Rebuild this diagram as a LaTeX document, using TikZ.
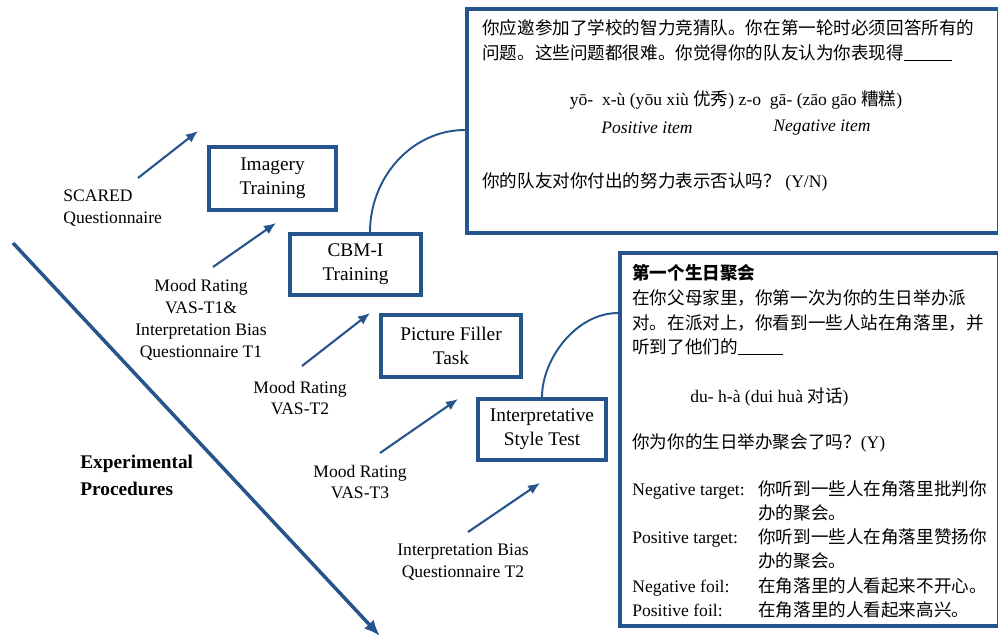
\documentclass[tikz,border=0pt]{standalone}
\usepackage{fontspec}
\setmainfont{Liberation Serif}
\newfontfamily\cjk{Noto Sans CJK SC}
\definecolor{myblue}{RGB}{38,84,140}
\usetikzlibrary{arrows.meta}

\begin{document}
\begin{tikzpicture}[x=0.02cm,y=-0.02cm,
    stage/.style={draw=myblue,line width=2.2pt,align=center,inner sep=0pt,
      font=\fontsize{11}{13.6}\selectfont},
    bigbox/.style={draw=myblue,line width=2.2pt,inner sep=0pt},
    lbl/.style={align=center,inner sep=0pt,font=\fontsize{10}{12.4}\selectfont},
    txt/.style={align=left,anchor=west,inner sep=0pt,font=\fontsize{10}{14}\selectfont},
    flow/.style={myblue,line width=1.2pt,-{Latex[length=2.4mm,width=2mm]}},
    link/.style={myblue,line width=1.1pt}
    ]
    \useasboundingbox (0,0) rectangle (998,639);

    % the stages
    \node[stage,minimum width=2.54cm,minimum height=1.26cm] (img) at (272.5,178.5) {Imagery\\Training};
    \node[stage,minimum width=2.62cm,minimum height=1.22cm] (cbm) at (355.5,264.5) {CBM-I\\Training};
    \node[stage,minimum width=2.80cm,minimum height=1.24cm] (pft) at (451,346) {Picture Filler\\Task};
    \node[stage,minimum width=2.56cm,minimum height=1.22cm] (isty) at (542,429.5) {Interpretative\\Style Test};

    % the measures
    \node[lbl,anchor=west,align=left] (scared) at (63,208) {SCARED\\Questionnaire};
    \node[lbl,font=\fontsize{10}{12.5}\selectfont] (moodA) at (201,320) {Mood Rating\\VAS-T1\&\\Interpretation Bias\\Questionnaire T1};
    \node[lbl] (moodB) at (300,398) {Mood Rating\\VAS-T2};
    \node[lbl] (moodC) at (360,482) {Mood Rating\\VAS-T3};
    \node[lbl] (ibq) at (463,562) {Interpretation Bias\\Questionnaire T2};
    \node[lbl,anchor=west,align=left,font=\bfseries\fontsize{11}{15.3}\selectfont] (exper) at (80,475) {Experimental\\Procedures};

    % the arrows
    \coordinate (scS) at (138,178);  \coordinate (scE) at (198,131);
    \coordinate (t1S) at (213,267);  \coordinate (t1E) at (276,223);
    \coordinate (t2S) at (302,366);  \coordinate (t2E) at (370,313);
    \coordinate (t3S) at (380,453);  \coordinate (t3E) at (458,399);
    \coordinate (ibS) at (468,532);  \coordinate (ibE) at (540,483);
    \draw[flow] (scS) -- (scE);
    \draw[flow] (t1S) -- (t1E);
    \draw[flow] (t2S) -- (t2E);
    \draw[flow] (t3S) -- (t3E);
    \draw[flow] (ibS) -- (ibE);

    % the time line
    \coordinate (tA) at (13,243);
    \coordinate (tB) at (380,636);
    \draw[myblue,line width=2pt,-{Latex[length=3.2mm,width=2.6mm]}] (tA) -- (tB);

    % the example items
    \node[bigbox,minimum width=10.64cm,minimum height=4.48cm] (itembox) at (733,121) {};
    \node[bigbox,minimum width=7.58cm,minimum height=7.46cm] (storybox) at (809.5,439.5) {};

    \node[txt,font=\cjk\fontsize{10}{14.2}\selectfont] (q1) at (482,40.5) {你应邀参加了学校的智力竞猜队。你在第一轮时必须回答所有的\\问题。这些问题都很难。你觉得你的队友认为你表现得\rule[-1pt]{0.96cm}{0.6pt}};
    \node[lbl] (pinyin) at (736,100) {yō-\ \ x-ù (yōu xiù {\cjk 优秀}) z-o\ \ gā- (zāo gāo {\cjk 糟糕})};
    \node[lbl,font=\itshape\fontsize{10}{12}\selectfont] (pos) at (647,128) {Positive item};
    \node[lbl,font=\itshape\fontsize{10}{12}\selectfont] (neg) at (822,128) {Negative item};
    \node[txt,font=\cjk\fontsize{10}{12}\selectfont] (q2) at (482,182) {你的队友对你付出的努力表示否认吗？{\rmfamily\ (Y/N)}};

    \node[txt,font=\cjk\fontsize{10}{14}\selectfont] (s1) at (632,310) {\textbf{第一个生日聚会}\\在你父母家里，你第一次为你的生日举办派\\对。在派对上，你看到一些人站在角落里，并\\听到了他们的\rule[-1pt]{0.9cm}{0.6pt}};
    \node[txt] (s2) at (690,397) {du- h-à (dui huà {\cjk 对话})};
    \node[txt,font=\cjk\fontsize{10}{12}\selectfont] (s3) at (632,443) {你为你的生日举办聚会了吗？{\rmfamily (Y)}};
    \node[txt,font=\fontsize{10}{13.8}\selectfont] (s4) at (632,551) {\begin{tabular}{@{}p{2.52cm}@{}l@{}}
      Negative target: & {\cjk 你听到一些人在角落里批判你}\\
                       & {\cjk 办的聚会。}\\
      Positive target: & {\cjk 你听到一些人在角落里赞扬你}\\
                       & {\cjk 办的聚会。}\\
      Negative foil:   & {\cjk 在角落里的人看起来不开心。}\\
      Positive foil:   & {\cjk 在角落里的人看起来高兴。}
    \end{tabular}};

    % the links to the items
    \draw[link] ([xshift=0.29cm]cbm.north) .. controls +(0cm,1.08cm) and +(-1.08cm,0cm) .. ([yshift=-0.18cm]itembox.west);
    \draw[link] (isty.north) .. controls +(0cm,0.75cm) and +(-0.85cm,0cm) .. ([yshift=2.53cm]storybox.west);
\end{tikzpicture}
\end{document}
